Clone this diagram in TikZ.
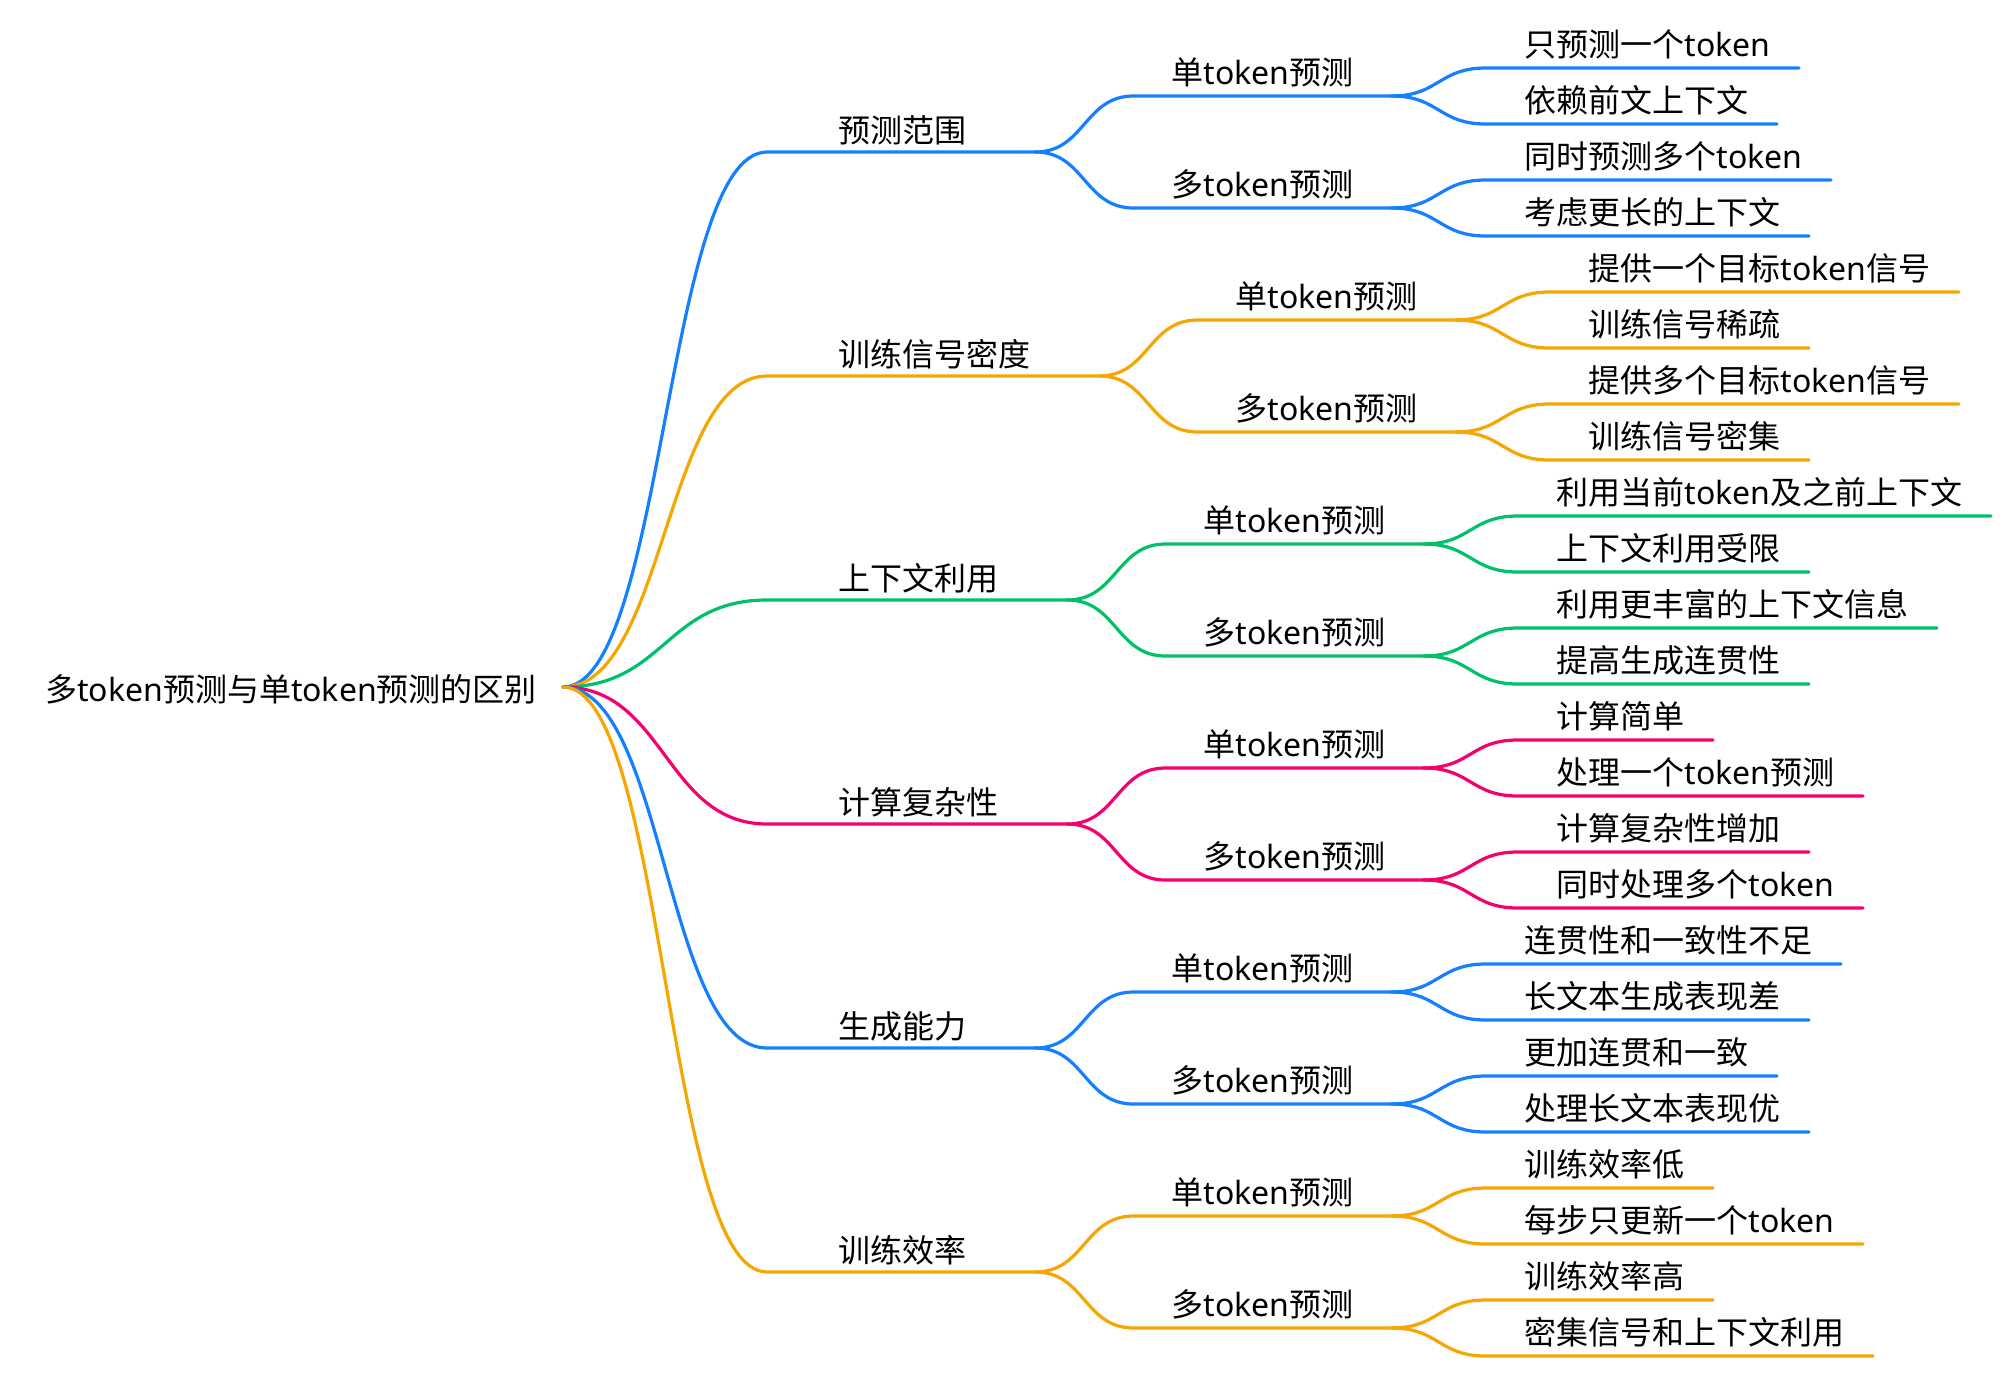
\documentclass[tikz,border=0pt]{standalone}
\usepackage{fontspec}
\setmainfont{Noto Sans CJK SC}
\newfontfamily\lat{Noto Sans}
\usetikzlibrary{calc}
\newcommand{\tk}{{\lat token}}
\definecolor{mblue}{RGB}{20,128,255}
\definecolor{morange}{RGB}{245,166,0}
\definecolor{mgreen}{RGB}{0,192,106}
\definecolor{mpink}{RGB}{245,0,110}
\tikzset{
  branch/.style={line width=3.2pt, line cap=round},
  lbl/.style={inner sep=0pt, anchor=base west, font=\fontsize{32}{38}\selectfont},
}
% #1 name, #2 parent end, #3 gap, #4 y, #5 lpad, #6 rpad, #7 colour, #8 text, #9 baseline offset
\newcommand{\mmb}[9]{%
  \coordinate (#1tmp) at ($(#2)+(#3,0)$);
  \coordinate (#1y) at (0,#4);
  \coordinate (#1s) at (#1tmp |- #1y);
  \node[lbl] (#1) at ($(#1s)+(#5,-#9)$) {#8};
  \coordinate (#1e) at ($(#1s -| #1.east)+(#6,0)$);
  \coordinate (#1m) at ($(#2)!0.5!(#1s)$);
  \draw[branch,#7] (#2) .. controls (#1m |- #2) and (#1m |- #1s) .. (#1s) -- (#1e);
}
% level helpers
\newcommand{\lone}[4]{\mmb{#1}{R}{204}{#2}{71}{69}{#3}{#4}{10}}
\newcommand{\ltwo}[5]{\mmb{#1}{#2e}{98}{#3}{38}{38}{#4}{#5}{12}}
\newcommand{\lthree}[5]{\mmb{#1}{#2e}{94}{#3}{39}{28}{#4}{#5}{12}}
\begin{document}
\begin{tikzpicture}[x=1pt,y=-1pt]
\useasboundingbox (0,0) rectangle (2016,1376);
\node[lbl] (root) at (45,701) {多\tk 预测与单\tk 预测的区别};
\coordinate (R) at ($(root.base east)+(26,-14)$);

% group 0
\lone{g0}{152}{mblue}{预测范围}
\ltwo{g0a}{g0}{96}{mblue}{单\tk 预测}
\lthree{g0a1}{g0a}{68}{mblue}{只预测一个\tk}
\lthree{g0a2}{g0a}{124}{mblue}{依赖前文上下文}
\ltwo{g0b}{g0}{208}{mblue}{多\tk 预测}
\lthree{g0b1}{g0b}{180}{mblue}{同时预测多个\tk}
\lthree{g0b2}{g0b}{236}{mblue}{考虑更长的上下文}

% group 1
\lone{g1}{376}{morange}{训练信号密度}
\ltwo{g1a}{g1}{320}{morange}{单\tk 预测}
\lthree{g1a1}{g1a}{292}{morange}{提供一个目标\tk 信号}
\lthree{g1a2}{g1a}{348}{morange}{训练信号稀疏}
\ltwo{g1b}{g1}{432}{morange}{多\tk 预测}
\lthree{g1b1}{g1b}{404}{morange}{提供多个目标\tk 信号}
\lthree{g1b2}{g1b}{460}{morange}{训练信号密集}

% group 2
\lone{g2}{600}{mgreen}{上下文利用}
\ltwo{g2a}{g2}{544}{mgreen}{单\tk 预测}
\lthree{g2a1}{g2a}{516}{mgreen}{利用当前\tk 及之前上下文}
\lthree{g2a2}{g2a}{572}{mgreen}{上下文利用受限}
\ltwo{g2b}{g2}{656}{mgreen}{多\tk 预测}
\lthree{g2b1}{g2b}{628}{mgreen}{利用更丰富的上下文信息}
\lthree{g2b2}{g2b}{684}{mgreen}{提高生成连贯性}

% group 3
\lone{g3}{824}{mpink}{计算复杂性}
\ltwo{g3a}{g3}{768}{mpink}{单\tk 预测}
\lthree{g3a1}{g3a}{740}{mpink}{计算简单}
\lthree{g3a2}{g3a}{796}{mpink}{处理一个\tk 预测}
\ltwo{g3b}{g3}{880}{mpink}{多\tk 预测}
\lthree{g3b1}{g3b}{852}{mpink}{计算复杂性增加}
\lthree{g3b2}{g3b}{908}{mpink}{同时处理多个\tk}

% group 4
\lone{g4}{1048}{mblue}{生成能力}
\ltwo{g4a}{g4}{992}{mblue}{单\tk 预测}
\lthree{g4a1}{g4a}{964}{mblue}{连贯性和一致性不足}
\lthree{g4a2}{g4a}{1020}{mblue}{长文本生成表现差}
\ltwo{g4b}{g4}{1104}{mblue}{多\tk 预测}
\lthree{g4b1}{g4b}{1076}{mblue}{更加连贯和一致}
\lthree{g4b2}{g4b}{1132}{mblue}{处理长文本表现优}

% group 5
\lone{g5}{1272}{morange}{训练效率}
\ltwo{g5a}{g5}{1216}{morange}{单\tk 预测}
\lthree{g5a1}{g5a}{1188}{morange}{训练效率低}
\lthree{g5a2}{g5a}{1244}{morange}{每步只更新一个\tk}
\ltwo{g5b}{g5}{1328}{morange}{多\tk 预测}
\lthree{g5b1}{g5b}{1300}{morange}{训练效率高}
\lthree{g5b2}{g5b}{1356}{morange}{密集信号和上下文利用}
\end{tikzpicture}
\end{document}
